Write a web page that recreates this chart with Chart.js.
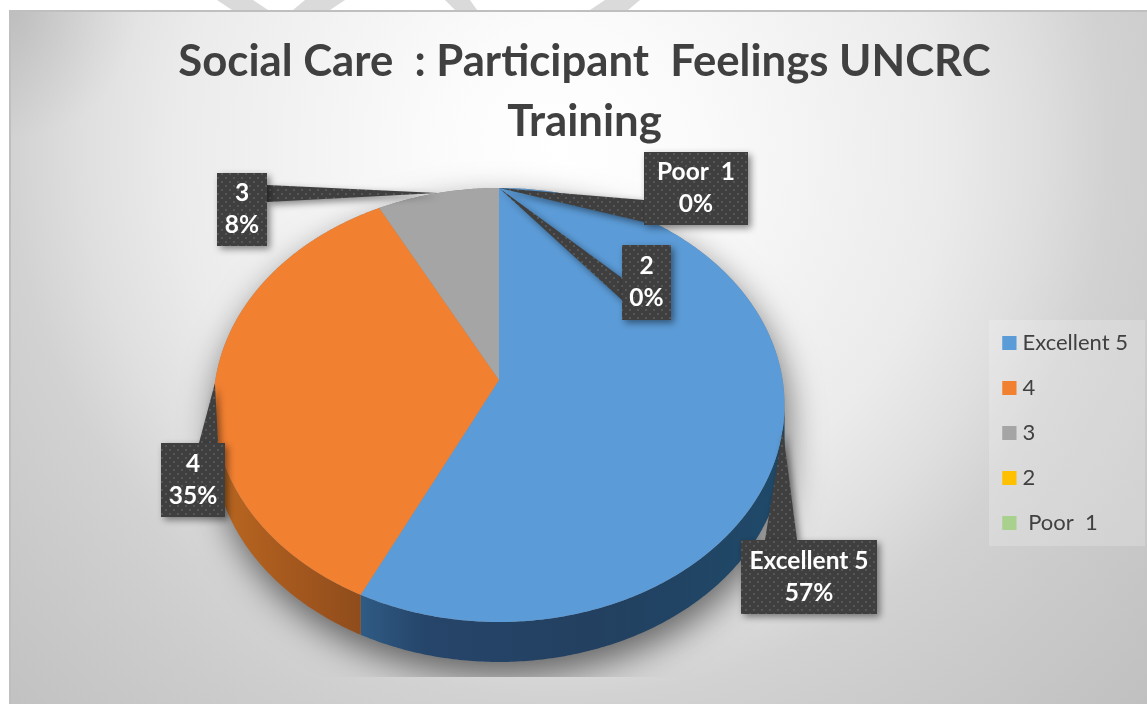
<!DOCTYPE html>
<html><head><meta charset="utf-8">
<style>html,body{margin:0;padding:0;background:#fff;overflow:hidden}canvas{display:block}</style>
<script src="https://cdn.jsdelivr.net/npm/chart.js@4/dist/chart.umd.min.js"></script>
</head><body><canvas id="c" width="1147" height="704"></canvas>
<script>
const categories = ['Excellent 5', '4', '3', '2', ' Poor  1'];
const values = [57.2, 35.1, 7.7, 0, 0];
const colors = ['#5B9BD7', '#F28031', '#A5A5A5', '#FFC000', '#A9D18E'];
// side wall shading of each slice, along its rim from right to left
const sideShades = [
  ['#1F4969', '#234060', '#26456A', '#2F5B84'],
  ['#8F4C1C', '#A4581E', '#B5631F', '#BC6820'],
  ['#6E6E6E', '#6E6E6E', '#7E7E7E', '#7E7E7E'],
  ['#AA8000', '#AA8000', '#BB9000', '#BB9000'],
  ['#70A050', '#70A050', '#80B060', '#80B060']
];
const titleLines = ['Social Care  : Participant  Feelings UNCRC', 'Training'];
// callout boxes: [left, top, width, height, pointer base a(x,y), pointer base b(x,y)]
const callouts = [
  [741, 540, 136, 74, 765, 540, 797, 540],
  [161, 443, 64, 74, 199, 443, 218, 443],
  [217, 173, 50, 73, 267, 185, 267, 202],
  [622, 245, 49, 75, 622, 278, 622, 300],
  [644, 152, 104, 73, 644, 200, 644, 222]
];
const view = {cx: 499, cy: 380, b: 283.6, a: 214.1, k: 0.1152, depth: 40};
const legendShiftY = 65;

function project(t) {
  const u = Math.cos(t), v = Math.sin(t), w = 1 - view.k * v;
  return [view.cx + view.b * u / w, view.cy + view.a * v / w];
}
function rim(ctx, s, e, dy, first) {
  const n = Math.max(2, Math.ceil(Math.abs(e - s) / 0.01));
  for (let i = 0; i <= n; i++) {
    const p = project(s + (e - s) * i / n);
    if (i === 0 && first) ctx.moveTo(p[0], p[1] + dy); else ctx.lineTo(p[0], p[1] + dy);
  }
}
function dotPattern(ctx) {
  const c = document.createElement('canvas'); c.width = c.height = 8;
  const g = c.getContext('2d');
  g.fillStyle = '#3F3F3F'; g.fillRect(0, 0, 8, 8);
  g.fillStyle = '#565656'; g.fillRect(1, 1, 2, 2); g.fillRect(5, 5, 2, 2);
  return ctx.createPattern(c, 'repeat');
}

const scene = {
  id: 'scene',
  afterLayout(chart) {
    chart.legend.top += legendShiftY; chart.legend.bottom += legendShiftY;
  },
  beforeDraw(chart) {
    const ctx = chart.ctx, W = chart.width, H = chart.height;
    ctx.save();
    ctx.fillStyle = '#fff'; ctx.fillRect(0, 0, W, H);
    ctx.fillStyle = '#DADADA';
    [[217,0,253,0,268,10,232,10],[293,10,305,0,345,0,330,10],[445,0,470,0,477,10,455,10],[605,0,640,0,628,10,590,10]].forEach(q => {
      ctx.beginPath(); ctx.moveTo(q[0],q[1]); ctx.lineTo(q[2],q[3]); ctx.lineTo(q[4],q[5]); ctx.lineTo(q[6],q[7]); ctx.fill();
    });
    const g = ctx.createRadialGradient(560, 150, 0, 560, 150, 820);
    g.addColorStop(0, '#FFFFFF'); g.addColorStop(0.15, '#FBFBFB'); g.addColorStop(0.47, '#EBEBEB');
    g.addColorStop(0.58, '#DFDFDF'); g.addColorStop(0.67, '#D2D2D2'); g.addColorStop(0.75, '#CDCDCD'); g.addColorStop(1, '#BFBFBF');
    ctx.fillStyle = g; ctx.fillRect(9, 10, W - 9, H - 10);
    const d = ctx.createRadialGradient(9, 10, 0, 9, 10, 130);
    d.addColorStop(0, 'rgba(0,0,0,0.09)'); d.addColorStop(1, 'rgba(0,0,0,0)');
    ctx.fillStyle = d; ctx.fillRect(9, 10, 130, 130);
    ctx.fillStyle = '#BFBFBF'; ctx.fillRect(9, 10, W - 9, 2); ctx.fillRect(9, 10, 2, H - 10);
    ctx.fillStyle = 'rgba(255,255,255,0.2)'; ctx.fillRect(989, 320, 156, 226);
    ctx.restore();
  },
  beforeDatasetsDraw(chart) {
    const ctx = chart.ctx, arcs = chart.getDatasetMeta(0).data;
    const lo = Math.asin(view.k), hi = Math.PI - lo;
    ctx.save();
    // widen the legend swatches so the text sits close to them
    chart.legend.legendHitBoxes.forEach((h, i) => {
      ctx.fillStyle = colors[i];
      ctx.fillRect(h.left, h.top + (h.height - 14) / 2, 14, 14);
    });
    // cast shadow of the whole solid
    ctx.save();
    ctx.beginPath(); ctx.rect(0, 0, chart.width, 677); ctx.clip();
    ctx.shadowColor = 'rgba(0,0,0,0.55)'; ctx.shadowBlur = 34; ctx.shadowOffsetY = 14; ctx.shadowOffsetX = 3;
    ctx.fillStyle = '#888';
    ctx.beginPath(); rim(ctx, hi, lo, view.depth, true);
    rim(ctx, lo, hi - 2 * Math.PI, 0, false);
    ctx.closePath(); ctx.fill();
    ctx.restore();
    // side walls
    arcs.forEach((el, i) => {
      const s = Math.max(el.startAngle, lo), e = Math.min(el.endAngle, hi);
      if (e <= s) return;
      const a = project(s), b = project(e);
      const g = ctx.createLinearGradient(a[0], 0, b[0], 0);
      const shades = sideShades[i];
      g.addColorStop(0, shades[0]); g.addColorStop(0.45, shades[1]); g.addColorStop(0.85, shades[2]); g.addColorStop(1, shades[3]);
      ctx.fillStyle = g;
      ctx.beginPath(); rim(ctx, s, e, 0, true); rim(ctx, e, s, view.depth, false); ctx.closePath(); ctx.fill();
    });
    // top faces
    arcs.forEach((el, i) => {
      if (el.endAngle - el.startAngle <= 0) return;
      ctx.fillStyle = colors[i];
      ctx.beginPath(); ctx.moveTo(view.cx, view.cy); rim(ctx, el.startAngle, el.endAngle, 0, false); ctx.closePath(); ctx.fill();
    });
    // callouts
    const total = values.reduce((p, c) => p + c, 0);
    const pat = dotPattern(ctx);
    arcs.forEach((el, i) => {
      const c = callouts[i];
      const mid = (el.startAngle + el.endAngle) / 2, tip = project(mid);
      ctx.save();
      ctx.shadowColor = 'rgba(0,0,0,0.45)'; ctx.shadowBlur = 7; ctx.shadowOffsetX = 3; ctx.shadowOffsetY = 3;
      ctx.fillStyle = pat;
      ctx.beginPath(); ctx.moveTo(tip[0], tip[1]); ctx.lineTo(c[4], c[5]); ctx.lineTo(c[6], c[7]); ctx.closePath(); ctx.fill();
      ctx.fillRect(c[0], c[1], c[2], c[3]);
      ctx.restore();
      ctx.fillStyle = '#fff'; ctx.font = 'bold 24.5px Lato'; ctx.textAlign = 'center'; ctx.textBaseline = 'middle';
      const x = c[0] + c[2] / 2, y = c[1] + c[3] / 2;
      ctx.fillText(categories[i].trim(), x, y - 16);
      ctx.fillText(Math.round(values[i] / total * 100) + '%', x, y + 16);
    });
    ctx.restore();
    return false;
  }
};

new Chart(document.getElementById('c'), {
  type: 'pie',
  data: {labels: categories, datasets: [{data: values, backgroundColor: colors, borderWidth: 0}]},
  options: {
    responsive: false, animation: false,
    layout: {padding: {left: 31, right: 9, top: 32, bottom: 0}},
    plugins: {
      tooltip: {enabled: false},
      title: {display: true, text: titleLines, color: '#404040', font: {family: 'Lato', size: 43.7, weight: 'bold', lineHeight: 1.373}, padding: 0},
      legend: {position: 'right', labels: {boxWidth: 9, boxHeight: 14, padding: 23, color: '#404040', font: {family: 'Lato', size: 22}}}
    }
  },
  plugins: [scene]
});
</script></body></html>
